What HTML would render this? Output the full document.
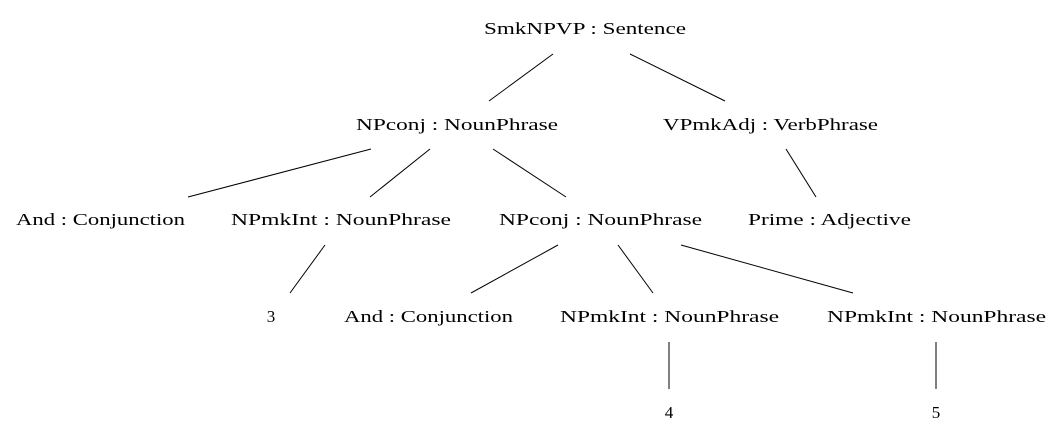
<!DOCTYPE html>
<html><head><style>html,body{margin:0;padding:0;background:#fff}svg{display:block}</style></head>
<body>
<svg width="1063" height="443" viewBox="0 0 1063 443" xmlns="http://www.w3.org/2000/svg">
<g stroke="#000" stroke-width="1" fill="none">
<line x1="553" y1="54" x2="489" y2="101"/>
<line x1="630" y1="54" x2="725" y2="101"/>
<line x1="371" y1="149" x2="188" y2="197"/>
<line x1="430" y1="149" x2="370" y2="197"/>
<line x1="493" y1="149" x2="566" y2="197"/>
<line x1="786" y1="149" x2="816" y2="197"/>
<line x1="325" y1="245" x2="290" y2="293"/>
<line x1="558" y1="245" x2="471" y2="293"/>
<line x1="618" y1="245" x2="653" y2="293"/>
<line x1="681" y1="245" x2="853" y2="293"/>
<line x1="669" y1="342" x2="669" y2="389"/>
<line x1="936" y1="342" x2="936" y2="389"/>
</g>
<g font-family="Liberation Serif, serif" font-size="17" fill="#000" lengthAdjust="spacingAndGlyphs">
<text x="484" y="34" textLength="202" lengthAdjust="spacingAndGlyphs">SmkNPVP : Sentence</text>
<text x="356" y="130" textLength="202" lengthAdjust="spacingAndGlyphs">NPconj : NounPhrase</text>
<text x="663" y="130" textLength="215" lengthAdjust="spacingAndGlyphs">VPmkAdj : VerbPhrase</text>
<text x="16" y="225" textLength="169" lengthAdjust="spacingAndGlyphs">And : Conjunction</text>
<text x="231" y="225" textLength="220" lengthAdjust="spacingAndGlyphs">NPmkInt : NounPhrase</text>
<text x="499" y="225" textLength="203" lengthAdjust="spacingAndGlyphs">NPconj : NounPhrase</text>
<text x="748" y="225" textLength="163" lengthAdjust="spacingAndGlyphs">Prime : Adjective</text>
<text x="271" y="322" text-anchor="middle">3</text>
<text x="344" y="322" textLength="169" lengthAdjust="spacingAndGlyphs">And : Conjunction</text>
<text x="560" y="322" textLength="219" lengthAdjust="spacingAndGlyphs">NPmkInt : NounPhrase</text>
<text x="827" y="322" textLength="219" lengthAdjust="spacingAndGlyphs">NPmkInt : NounPhrase</text>
<text x="669" y="418" text-anchor="middle">4</text>
<text x="936" y="418" text-anchor="middle">5</text>
</g>
</svg>
</body></html>
